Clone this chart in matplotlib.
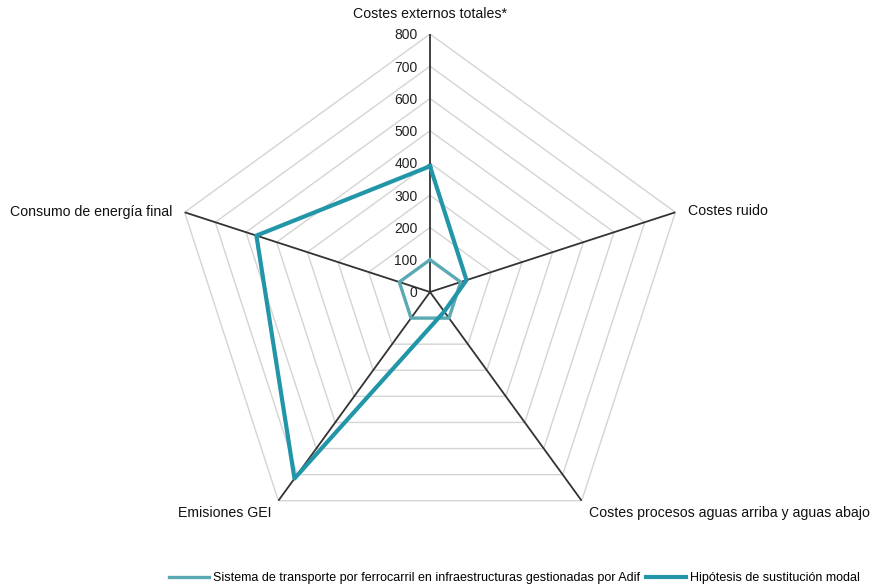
import numpy as np
import matplotlib
matplotlib.use("Agg")
import matplotlib.pyplot as plt
from matplotlib.transforms import offset_copy

categories = ["Costes externos totales*", "Costes ruido",
              "Costes procesos aguas arriba y aguas abajo",
              "Emisiones GEI", "Consumo de energía final"]
sistema = [100, 100, 100, 100, 100]
hipotesis = [390, 119, 75, 715, 566]
series_names = ["Sistema de transporte por ferrocarril en infraestructuras gestionadas por Adif",
                "Hipótesis de sustitución modal"]
rticks = [0, 100, 200, 300, 400, 500, 600, 700, 800]

plt.rcParams['font.family'] = ['Liberation Sans', 'DejaVu Sans']

W, H = 875, 585
fig = plt.figure(figsize=(W / 100, H / 100), dpi=100)
cx, cy, R = 430, 292, 258
ax = fig.add_axes([(cx - R) / W, (H - cy - R) / H, 2 * R / W, 2 * R / H], projection='polar')
ax.set_theta_zero_location('N')
ax.set_theta_direction(-1)
ax.set_ylim(0, 800)
ax.grid(False)
ax.set_xticks([])
ax.set_yticks([])
ax.spines['polar'].set_visible(False)
ax.patch.set_visible(False)

n = len(categories)
theta = np.arange(n) * 2 * np.pi / n
tc = np.append(theta, theta[0])

for r in rticks[1:]:
    ax.plot(tc, [r] * (n + 1), color='#d4d4d4', lw=1.0, zorder=1)
for t in theta:
    ax.plot([t, t], [0, 800], color='#333333', lw=1.3, zorder=2)

c1 = '#5aa9b3'
c2 = '#2296a8'
ax.plot(tc, sistema + sistema[:1], color=c1, lw=2.4, zorder=3, label=series_names[0])
ax.plot(tc, hipotesis + hipotesis[:1], color=c2, lw=3.0, zorder=4, label=series_names[1])

fs = 10.2
for r in rticks:
    tr = offset_copy(ax.transData, fig=fig, x=-9, y=-1, units='points')
    ax.text(0, r, str(r), transform=tr, ha='right', va='center', fontsize=10, color='#222222')

offs = [(0, 9, 'center', 'bottom'), (9, 1, 'left', 'center'), (5, -4, 'left', 'top'),
        (-5, -4, 'right', 'top'), (-9, 0, 'right', 'center')]
for t, lab, (dx, dy, ha, va) in zip(theta, categories, offs):
    tr = offset_copy(ax.transData, fig=fig, x=dx, y=dy, units='points')
    ax.text(t, 800, lab, transform=tr, ha=ha, va=va, fontsize=fs, color='#111111')

fig.legend(loc='lower center', bbox_to_anchor=(0.588, -0.018), ncol=2, frameon=False,
           fontsize=9.0, handlelength=3.2, columnspacing=0.5, handletextpad=0.3)

fig.savefig('out.png', dpi=100)
